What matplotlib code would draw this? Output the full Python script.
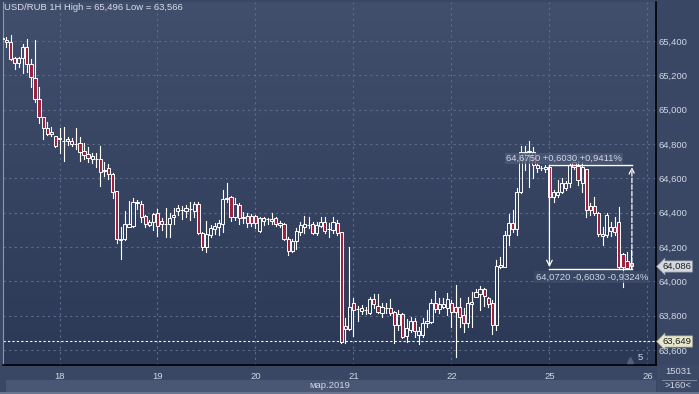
import numpy as np
import matplotlib.pyplot as plt
from matplotlib.patches import Rectangle
from matplotlib.colors import LinearSegmentedColormap
import matplotlib.transforms as mtransforms

plt.rcParams['font.family'] = ['Liberation Sans', 'DejaVu Sans']

# hourly candles USD/RUB, hour index 0 = 18 march 00:00
hours = np.arange(-14, 141)
opens = [65.420, 65.392, 65.392, 65.303, 65.274, 65.303, 65.363, 65.266, 65.183, 65.060,
         64.955, 64.891, 64.868, 64.848, 64.833, 64.815, 64.817, 64.816, 64.802, 64.804,
         64.757, 64.740, 64.711, 64.713, 64.711, 64.643, 64.662, 64.625, 64.528, 64.245,
         64.245, 64.318, 64.322, 64.462, 64.449, 64.382, 64.330, 64.344, 64.396, 64.351,
         64.333, 64.332, 64.376, 64.412, 64.416, 64.412, 64.420, 64.412, 64.449, 64.283,
         64.202, 64.270, 64.303, 64.318, 64.332, 64.480, 64.493, 64.376, 64.445, 64.377,
         64.380, 64.380, 64.380, 64.295, 64.353, 64.364, 64.351, 64.371, 64.328, 64.334,
         64.247, 64.178, 64.235, 64.289, 64.318, 64.329, 64.334, 64.283, 64.324, 64.344,
         64.302, 64.299, 64.342, 64.286, 63.740, 63.720, 63.872, 63.838, 63.829, 63.833,
         63.814, 63.897, 63.856, 63.817, 63.843, 63.843, 63.823, 63.746, 63.810, 63.681,
         63.716, 63.770, 63.687, 63.687, 63.759, 63.765, 63.876, 63.838, 63.852, 63.846,
         63.876, 63.849, 63.849, 63.804, 63.755, 63.868, 63.910, 63.924, 63.955, 63.901,
         63.876, 63.746, 64.085, 64.085, 64.270, 64.341, 64.305, 64.522, 64.746, 64.754,
         64.755, 64.662, 64.661, 64.653, 64.664, 64.493, 64.503, 64.522, 64.542, 64.571,
         64.697, 64.672, 64.571, 64.653, 64.439, 64.439, 64.400, 64.276, 64.270, 64.295,
         64.318, 64.347, 64.159, 64.120, 64.105]
highs = [65.450, 65.425, 65.435, 65.308, 65.308, 65.381, 65.412, 65.293, 65.406, 65.130,
         64.957, 64.930, 64.901, 64.848, 64.895, 64.899, 64.842, 64.835, 64.891, 64.839,
         64.804, 64.781, 64.746, 64.746, 64.787, 64.693, 64.683, 64.629, 64.528, 64.318,
         64.410, 64.468, 64.484, 64.474, 64.468, 64.386, 64.356, 64.396, 64.419, 64.367,
         64.425, 64.396, 64.425, 64.445, 64.439, 64.445, 64.464, 64.464, 64.464, 64.289,
         64.351, 64.328, 64.338, 64.357, 64.532, 64.571, 64.497, 64.484, 64.455, 64.405,
         64.398, 64.392, 64.386, 64.376, 64.376, 64.371, 64.400, 64.376, 64.353, 64.341,
         64.260, 64.247, 64.309, 64.347, 64.381, 64.376, 64.346, 64.347, 64.373, 64.373,
         64.342, 64.373, 64.357, 64.287, 63.784, 64.198, 63.901, 63.856, 63.862, 63.849,
         63.907, 63.926, 63.926, 63.875, 63.874, 63.897, 63.829, 63.833, 63.814, 63.779,
         63.790, 63.784, 63.736, 63.784, 63.833, 63.895, 63.944, 63.901, 63.901, 63.934,
         63.891, 63.978, 63.901, 63.843, 63.910, 63.940, 63.953, 63.973, 63.959, 63.910,
         63.891, 64.124, 64.143, 64.293, 64.390, 64.415, 64.542, 64.788, 64.788, 64.819,
         64.784, 64.691, 64.672, 64.678, 64.672, 64.532, 64.590, 64.600, 64.584, 64.687,
         64.697, 64.703, 64.697, 64.653, 64.454, 64.493, 64.406, 64.318, 64.396, 64.347,
         64.376, 64.435, 64.163, 64.173, 64.182]
lows = [65.395, 65.367, 65.289, 65.235, 65.250, 65.215, 65.221, 65.134, 65.046, 64.924,
        64.827, 64.852, 64.847, 64.781, 64.746, 64.703, 64.794, 64.788, 64.771, 64.703,
        64.713, 64.693, 64.688, 64.668, 64.557, 64.615, 64.596, 64.484, 64.221, 64.128,
        64.241, 64.315, 64.318, 64.420, 64.347, 64.318, 64.320, 64.299, 64.266, 64.299,
        64.260, 64.256, 64.334, 64.386, 64.363, 64.376, 64.357, 64.376, 64.276, 64.182,
        64.172, 64.260, 64.276, 64.270, 64.289, 64.464, 64.351, 64.357, 64.332, 64.338,
        64.316, 64.322, 64.309, 64.289, 64.328, 64.334, 64.334, 64.322, 64.315, 64.241,
        64.153, 64.172, 64.186, 64.270, 64.280, 64.309, 64.276, 64.270, 64.315, 64.280,
        64.260, 64.283, 64.270, 63.642, 63.642, 63.716, 63.681, 63.771, 63.810, 63.810,
        63.810, 63.843, 63.814, 63.794, 63.817, 63.804, 63.642, 63.716, 63.668, 63.648,
        63.706, 63.677, 63.633, 63.677, 63.736, 63.759, 63.823, 63.814, 63.843, 63.804,
        63.736, 63.561, 63.736, 63.706, 63.736, 63.736, 63.907, 63.833, 63.856, 63.852,
        63.693, 63.716, 64.076, 64.081, 64.211, 64.289, 64.270, 64.513, 64.648, 64.551,
        64.600, 64.639, 64.648, 64.637, 64.478, 64.464, 64.493, 64.513, 64.532, 64.551,
        64.654, 64.561, 64.522, 64.376, 64.386, 64.386, 64.264, 64.211, 64.260, 64.264,
        64.270, 64.070, 63.969, 64.070, 64.076]
closes = [65.410, 65.406, 65.295, 65.270, 65.303, 65.367, 65.264, 65.189, 65.060, 64.959,
          64.891, 64.860, 64.858, 64.790, 64.829, 64.818, 64.827, 64.800, 64.800, 64.752,
          64.738, 64.717, 64.730, 64.715, 64.639, 64.649, 64.623, 64.522, 64.245, 64.243,
          64.332, 64.332, 64.462, 64.455, 64.376, 64.332, 64.345, 64.390, 64.324, 64.332,
          64.331, 64.367, 64.386, 64.425, 64.415, 64.425, 64.419, 64.449, 64.283, 64.202,
          64.276, 64.309, 64.322, 64.338, 64.478, 64.484, 64.376, 64.449, 64.367, 64.367,
          64.341, 64.341, 64.338, 64.367, 64.367, 64.363, 64.363, 64.332, 64.341, 64.245,
          64.178, 64.235, 64.293, 64.328, 64.332, 64.328, 64.283, 64.328, 64.344, 64.293,
          64.303, 64.344, 64.283, 63.645, 63.720, 63.849, 63.833, 63.839, 63.846, 63.834,
          63.897, 63.868, 63.823, 63.849, 63.844, 63.814, 63.746, 63.810, 63.678, 63.726,
          63.770, 63.710, 63.710, 63.759, 63.770, 63.876, 63.837, 63.868, 63.868, 63.895,
          63.823, 63.823, 63.794, 63.755, 63.876, 63.880, 63.940, 63.953, 63.914, 63.868,
          63.746, 64.089, 64.095, 64.270, 64.338, 64.305, 64.519, 64.755, 64.755, 64.756,
          64.678, 64.678, 64.660, 64.668, 64.493, 64.522, 64.522, 64.571, 64.571, 64.678,
          64.668, 64.590, 64.668, 64.415, 64.415, 64.400, 64.276, 64.264, 64.386, 64.318,
          64.289, 64.082, 64.082, 64.076, 64.086]

day_pos = [0, 24, 48, 72, 96, 120, 144]
day_labels = ['18', '19', '20', '21', '22', '25', '26']
price_ticks = [63.6, 63.8, 64.0, 64.2, 64.4, 64.6, 64.8, 65.0, 65.2, 65.4]
title = 'USD/RUB 1H High = 65,496 Low = 63,566'
ref_level = 63.649
last_price = 64.086
meas_hi, meas_lo = 64.675, 64.072
meas_from, meas_to = 120, 140.2
txt_hi = '64,6750 +0,6030 +0,9411%'
txt_lo = '64,0720 -0,6030 -0,9324%'

txtcol = '#d0d7e4'
fs = 6.8
fig = plt.figure(figsize=(6.99, 3.94), dpi=100)
fig.patch.set_facecolor('#3a4764')

W, H = 699., 394.
ax = fig.add_axes([3 / W, 29 / H, 653 / W, 363 / H])
ax.set_xlim(-13.84, 146.1)
ax.set_ylim(63.512, 65.627)

grad = np.linspace(0, 1, 256).reshape(-1, 1)
cmap = LinearSegmentedColormap.from_list('bg', ['#424f6c', '#2c3956'])
ax.imshow(grad, cmap=cmap, extent=[0, 1, 0, 1], transform=ax.transAxes,
          aspect='auto', zorder=0)

ax.set_xticks(day_pos)
ax.set_xticklabels(day_labels)
ax.set_yticks(price_ticks)
ax.set_yticklabels([('%.3f' % p).replace('.', ',') for p in price_ticks])
ax.yaxis.tick_right()
ax.tick_params(axis='both', length=0, labelsize=fs, labelcolor=txtcol)
ax.tick_params(axis='y', pad=1.5)
ax.tick_params(axis='x', pad=5)
ax.grid(True, color='#5c6b8a', lw=0.8, linestyle=(0, (2, 3)), zorder=1)
ax.set_axisbelow(True)
ax.spines['top'].set_visible(False)
ax.spines['right'].set_color('black')
ax.spines['bottom'].set_color('black')
ax.spines['right'].set_linewidth(1.2)
ax.spines['bottom'].set_linewidth(1.2)
ax.spines['left'].set_color('#8a96ac')

# candles
w = 0.78
for k, o, h, l, c in zip(hours, opens, highs, lows, closes):
    lo_b, hi_b = min(o, c), max(o, c)
    ax.plot([k, k], [l, lo_b], color='white', lw=0.8, zorder=3)
    ax.plot([k, k], [hi_b, h], color='white', lw=0.8, zorder=3)
    fc = '#a0213f' if c < o else 'none'
    ax.add_patch(Rectangle((k - w / 2, lo_b), w, max(hi_b - lo_b, 0.0005),
                           facecolor=fc, edgecolor='white', lw=0.7, zorder=4))

ax.axhline(ref_level, color='white', lw=0.8, linestyle=(0, (2, 2)), zorder=2)

# measuring tool
ax.plot([meas_from, meas_to], [meas_hi, meas_hi], color='white', lw=1, zorder=5)
ax.plot([meas_from, meas_to], [meas_lo, meas_lo], color='white', lw=1, zorder=5)
ax.annotate('', xy=(meas_from, meas_lo + 0.01), xytext=(meas_from, meas_hi),
            arrowprops=dict(arrowstyle='->', color='white', lw=0.9,
                            shrinkA=0, shrinkB=0), zorder=5)
ax.annotate('', xy=(meas_to, meas_hi - 0.01), xytext=(meas_to, meas_lo),
            arrowprops=dict(arrowstyle='->', color='white', lw=0.9, linestyle='--',
                            shrinkA=0, shrinkB=0), zorder=5)
ax.text(109.4, 64.715, txt_hi, fontsize=fs, color=txtcol, va='center', ha='left',
        zorder=6, bbox=dict(facecolor='#4c5977', edgecolor='none', alpha=0.8, pad=1))
ax.text(116.6, 64.025, txt_lo, fontsize=fs, color=txtcol, va='center', ha='left',
        zorder=6, bbox=dict(facecolor='#3c4967', edgecolor='none', alpha=0.8, pad=1))

ax.text(0.0015, 0.985, title, transform=ax.transAxes, fontsize=fs, color='#d8dde8',
        va='center', ha='left', zorder=7)
ax.text(142.3, 63.553, '5', fontsize=fs, color=txtcol, va='center', ha='center', zorder=6)
ax.plot([139.8], [63.541], marker='^', ms=4, color='#55617c', zorder=6)

# price labels on right axis
trans = mtransforms.blended_transform_factory(ax.transAxes, ax.transData)
ax.text(1.01, last_price, ('%.3f' % last_price).replace('.', ','), transform=trans,
        fontsize=fs, color='#1e1e1e', va='center', ha='left', clip_on=False, zorder=8,
        bbox=dict(boxstyle='larrow,pad=0.12', facecolor='#d4d8df', edgecolor='#8890a0', lw=0.5))
ax.text(1.01, ref_level, ('%.3f' % ref_level).replace('.', ','), transform=trans,
        fontsize=fs, color='#1e1e1e', va='center', ha='left', clip_on=False, zorder=8,
        bbox=dict(boxstyle='larrow,pad=0.12', facecolor='#e6e7cb', edgecolor='#9a9a88', lw=0.5))

# bottom bands
fig.patches.append(Rectangle((6 / W, 2 / H), 650 / W, 12 / H, transform=fig.transFigure,
                             facecolor='#4a5774', edgecolor='none', zorder=0))
fig.patches.append(Rectangle((0, 0), 1, 2 / H, transform=fig.transFigure,
                             facecolor='#6a7690', edgecolor='none', zorder=0))
fig.text(330 / W, 1 - 385 / H, 'мар.2019', fontsize=fs, color=txtcol, ha='center', va='center')

# corner box
fig.patches.append(Rectangle((657 / W, 2 / H), 42 / W, 27 / H, transform=fig.transFigure,
                             facecolor='#3d4a67', edgecolor='none', zorder=0))
fig.add_artist(plt.Line2D([662 / W, 696 / W], [1 - 380 / H] * 2, color='#8a94aa', lw=0.6))
fig.text(678 / W, 1 - 372 / H, '15031', fontsize=fs, color=txtcol, ha='center', va='center')
fig.text(678 / W, 1 - 386 / H, '>160<', fontsize=fs, color=txtcol, ha='center', va='center')

fig.savefig('out.png', dpi=100, facecolor=fig.get_facecolor())
